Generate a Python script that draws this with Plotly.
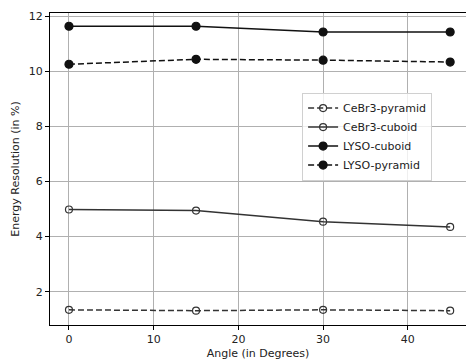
import plotly.graph_objects as go

angles = [0, 15, 30, 45]
cebr3_pyramid = [1.34, 1.31, 1.34, 1.31]
cebr3_cuboid = [4.98, 4.94, 4.54, 4.35]
lyso_cuboid = [11.63, 11.63, 11.42, 11.42]
lyso_pyramid = [10.25, 10.43, 10.40, 10.33]

series = [
    ("CeBr3-pyramid", cebr3_pyramid, "#333333", "dash", "circle-open", 7),
    ("CeBr3-cuboid", cebr3_cuboid, "#333333", "solid", "circle-open", 7),
    ("LYSO-cuboid", lyso_cuboid, "#111111", "solid", "circle", 8),
    ("LYSO-pyramid", lyso_pyramid, "#111111", "dash", "circle", 8),
]

fig = go.Figure()
for name, vals, col, dash, sym, ms in series:
    fig.add_trace(go.Scatter(
        x=angles, y=vals, name=name, mode="lines+markers",
        line=dict(color=col, width=1.5, dash="6px,3px" if dash == "dash" else "solid"),
        marker=dict(symbol=sym, size=ms, color=col, line=dict(color=col, width=1.2)),
    ))

font = "DejaVu Sans, sans-serif"
fig.update_layout(
    width=466, height=362,
    margin=dict(l=50, r=0, t=13, b=37),
    paper_bgcolor="white", plot_bgcolor="white",
    font=dict(family=font, size=11, color="#222222"),
    showlegend=True,
    legend=dict(x=0.606, y=0.745, xanchor="left", yanchor="top",
                bgcolor="rgba(255,255,255,0.8)", bordercolor="#d0d0d0", borderwidth=1,
                font=dict(size=11), itemwidth=30, tracegroupgap=0),
)
fig.update_xaxes(
    range=[-2.24, 46.87], tickvals=[0, 10, 20, 30, 40],
    showgrid=True, gridcolor="#b0b0b0", gridwidth=0.8,
    showline=True, linecolor="black", linewidth=1, mirror=True,
    ticks="outside", ticklen=4, tickcolor="black", zeroline=False,
    title=dict(text="Angle (in Degrees)", standoff=4, font=dict(size=11)),
)
fig.update_yaxes(
    range=[0.79, 12.11], tickvals=[2, 4, 6, 8, 10, 12],
    showgrid=True, gridcolor="#b0b0b0", gridwidth=0.8,
    showline=True, linecolor="black", linewidth=1, mirror=False,
    ticks="outside", ticklen=4, tickcolor="black", zeroline=False,
    title=dict(text="Energy Resolution (in %)", standoff=6, font=dict(size=11)),
)

fig.write_html("out.html", config={"displayModeBar": False},
               post_script="document.body.style.margin='0';")
